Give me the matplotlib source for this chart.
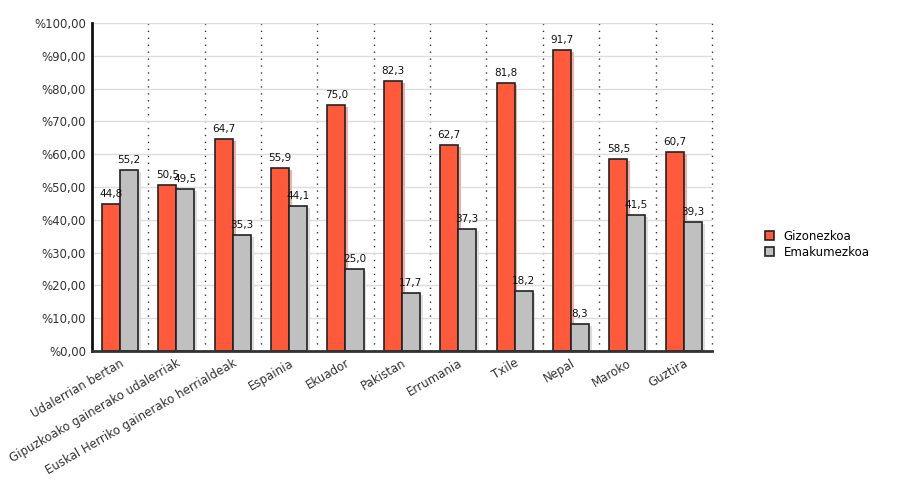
import numpy as np
import matplotlib
matplotlib.use('Agg')
from matplotlib import pyplot as plt

categories = ['Udalerrian bertan', 'Gipuzkoako gainerako udalerriak',
              'Euskal Herriko gainerako herrialdeak', 'Espainia', 'Ekuador',
              'Pakistan', 'Errumania', 'Txile', 'Nepal', 'Maroko', 'Guztira']
gizon = [44.8, 50.5, 64.7, 55.9, 75.0, 82.3, 62.7, 81.8, 91.7, 58.5, 60.7]
emak = [55.2, 49.5, 35.3, 44.1, 25.0, 17.7, 37.3, 18.2, 8.3, 41.5, 39.3]
yticks = np.arange(0, 101, 10)

red = '#ff5a3c'
grey = '#c0c0c0'

fig = plt.figure(figsize=(9, 5), dpi=100)
ax = fig.add_axes([0.102, 0.298, 0.689, 0.656])

x = np.arange(len(categories))
w = 0.32

# soft shadows
ax.bar(x - w/2 + 0.05, gizon, w, bottom=-0.6, color='#f2b0a4', zorder=1)
ax.bar(x + w/2 + 0.05, emak, w, bottom=-0.6, color='#dddddd', zorder=1)

b1 = ax.bar(x - w/2, gizon, w, color=red, edgecolor='#222222', linewidth=1.2,
            label='Gizonezkoa', zorder=2)
b2 = ax.bar(x + w/2, emak, w, color=grey, edgecolor='#222222', linewidth=1.2,
            label='Emakumezkoa', zorder=2)

for bars, vals in ((b1, gizon), (b2, emak)):
    for r, v in zip(bars, vals):
        ax.text(r.get_x() + r.get_width()/2, v + 1.5, f'{v:.1f}'.replace('.', ','),
                ha='center', va='bottom', fontsize=7.5, color='#111111', zorder=3)

ax.set_xlim(-0.5, len(categories) - 0.5)
ax.set_ylim(0, 100)
ax.set_yticks(yticks)
ax.set_yticklabels(['%' + f'{t:.2f}'.replace('.', ',') for t in yticks],
                   fontsize=8.5, color='#333333')
ax.yaxis.grid(True, color='#dddddd', linewidth=1, zorder=0)
ax.set_axisbelow(True)
for b in np.arange(0.5, len(categories) + 0.01, 1.0):
    ax.axvline(b, color='#333333', linestyle=(0, (1, 4)), linewidth=1, zorder=0,
               clip_on=False)

ax.set_xticks(x)
ax.set_xticklabels(categories, rotation=30, ha='right', rotation_mode='anchor',
                   fontsize=8.5, color='#333333')
ax.tick_params(axis='both', length=0, pad=4)

ax.spines['top'].set_visible(False)
ax.spines['right'].set_visible(False)
ax.spines['left'].set_linewidth(2)
ax.spines['bottom'].set_linewidth(2)
ax.spines['left'].set_color('#111111')
ax.spines['bottom'].set_color('#333333')

fig.legend(handles=[b1, b2], loc='upper left', bbox_to_anchor=(0.838, 0.562),
           frameon=False, fontsize=8.5, handlelength=0.8, handleheight=0.8,
           handletextpad=0.8, labelspacing=0.25)

plt.savefig('out.png', dpi=100)
